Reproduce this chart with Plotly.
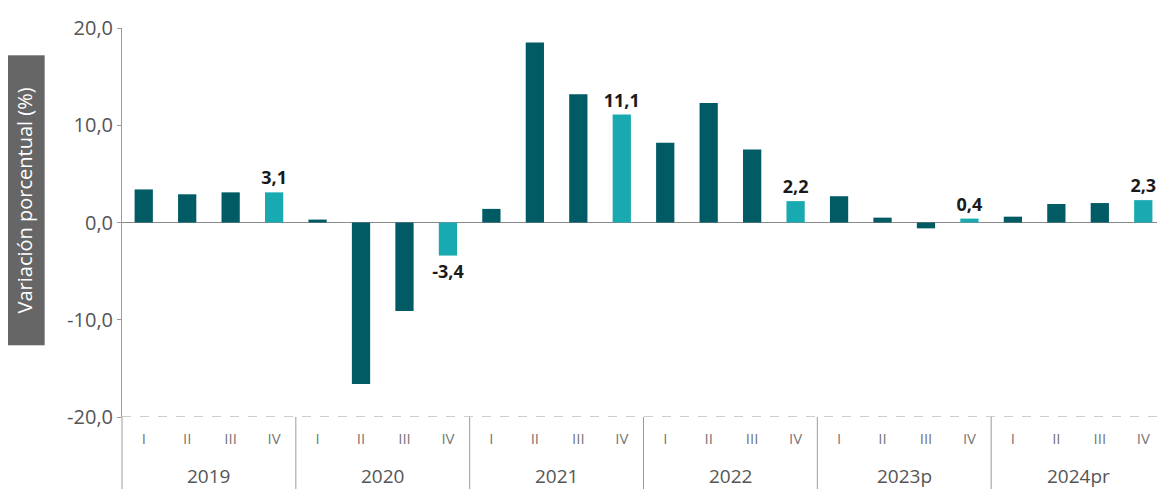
import plotly.graph_objects as go

# ---- data ----
years = ["2019", "2020", "2021", "2022", "2023p", "2024pr"]
quarters = ["I", "II", "III", "IV"]
values = [
    3.4, 2.9, 3.1, 3.1,
    0.3, -16.6, -9.1, -3.4,
    1.4, 18.5, 13.2, 11.1,
    8.2, 12.3, 7.5, 2.2,
    2.7, 0.5, -0.6, 0.4,
    0.6, 1.9, 2.0, 2.3,
]
y_ticks = [-20, -10, 0, 10, 20]

DARK = "#005b64"
LIGHT = "#19a9b1"
GREY = "#9a9a9a"

cats = [f"{y} {q}" for y in years for q in quarters]
qlabels = [q for y in years for q in quarters]
colors = [LIGHT if q == "IV" else DARK for q in qlabels]
labels = [f"{v:.1f}".replace(".", ",") if q == "IV" else "" for v, q in zip(values, qlabels)]
y_ticktext = [f"{v:.1f}".replace(".", ",") for v in y_ticks]  # plain hyphen minus

fig = go.Figure(go.Bar(
    x=cats, y=values,
    marker=dict(color=colors, line=dict(width=0)),
    text=labels, textposition="outside", cliponaxis=False,
    constraintext="none",
    textfont=dict(family="Open Sans", size=18, color="#1a1a1a", weight="bold"),
))

# the page body adds 8px around the figure, so the size is trimmed to fit
fig.update_layout(
    width=1157, height=481,
    margin=dict(l=114, r=0, t=20, b=72, autoexpand=False),
    plot_bgcolor="white", paper_bgcolor="white",
    bargap=0.58,
    showlegend=False,
    font=dict(family="Open Sans", color="#555555"),
)

fig.update_yaxes(
    range=[-20, 20], tickvals=y_ticks, ticktext=y_ticktext,
    tickfont=dict(size=20, color="#555555"),
    showgrid=False, showline=True, linecolor=GREY, linewidth=1,
    ticks="outside", ticklen=4, tickcolor=GREY,
    zeroline=True, zerolinecolor="#8a8a8a", zerolinewidth=1,
    automargin=False,
)
fig.update_xaxes(
    type="category", tickvals=cats, ticktext=qlabels,
    tickfont=dict(size=15, color="#777777"),
    ticklabelstandoff=11,
    showgrid=False, showline=False, ticks="",
    automargin=False,
)

# dashed baseline at -20
fig.add_shape(type="line", xref="paper", yref="y", x0=0, x1=1, y0=-20, y1=-20,
              line=dict(color=GREY, width=1, dash="dash"))
# axis line continued down through the label table
fig.add_shape(type="line", xref="paper", yref="paper", x0=0, x1=0, y0=0, y1=-0.19,
              line=dict(color=GREY, width=1))

for i, yr in enumerate(years):
    mid = i * 4 + 1.5
    fig.add_annotation(x=mid, xref="x", y=-0.152, yref="paper", text=yr,
                       showarrow=False, yanchor="middle",
                       font=dict(size=19, color="#555555"))
    if i > 0:
        fig.add_shape(type="line", xref="x", yref="paper", x0=i * 4 - 0.5, x1=i * 4 - 0.5,
                      y0=0, y1=-0.19, line=dict(color=GREY, width=1))

# y axis title in a grey box
fig.add_annotation(
    text="Variación porcentual (%)", textangle=-90,
    xref="paper", yref="paper", x=-0.0935, y=0.557,
    xanchor="center", yanchor="middle",
    showarrow=False, bgcolor="#666666",
    width=287, height=37,
    font=dict(size=20, color="white"),
)

fig.write_html("out.html")
